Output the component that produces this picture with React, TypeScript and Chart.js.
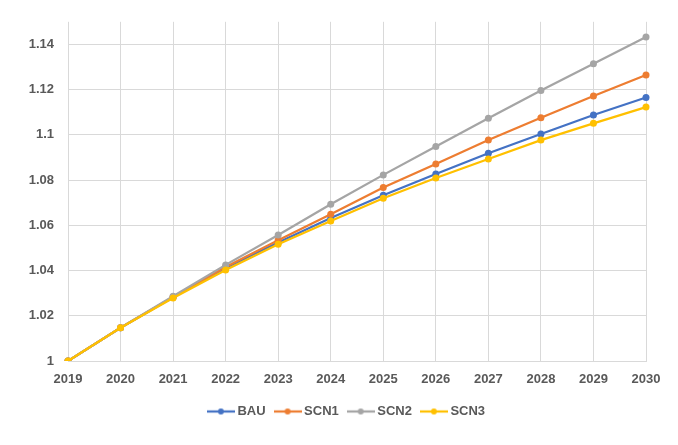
import React, { useEffect, useRef } from "react";
import { Chart, registerables } from "chart.js";

Chart.register(...registerables);

const years = ["2019", "2020", "2021", "2022", "2023", "2024", "2025", "2026", "2027", "2028", "2029", "2030"];
const bau = [1, 1.0147, 1.0282, 1.0411, 1.0524, 1.0632, 1.0733, 1.0827, 1.0919, 1.1004, 1.1088, 1.1165];
const scn1 = [1, 1.0147, 1.0283, 1.0416, 1.0534, 1.0649, 1.0767, 1.0871, 1.0977, 1.1076, 1.1172, 1.1265];
const scn2 = [1, 1.0147, 1.0286, 1.0425, 1.0557, 1.0693, 1.0823, 1.0949, 1.1073, 1.1196, 1.1314, 1.1433];
const scn3 = [1, 1.0147, 1.0279, 1.0402, 1.0516, 1.0619, 1.072, 1.0809, 1.0893, 1.0977, 1.1051, 1.1123];
const seriesNames = ["BAU", "SCN1", "SCN2", "SCN3"];
const seriesColors = ["#4472C4", "#ED7D31", "#A5A5A5", "#FFC000"];

function legendIcon(color: string): HTMLCanvasElement {
  const c = document.createElement("canvas");
  c.width = 28;
  c.height = 10;
  const ctx = c.getContext("2d")!;
  ctx.strokeStyle = color;
  ctx.lineWidth = 2.25;
  ctx.beginPath();
  ctx.moveTo(0, 5);
  ctx.lineTo(28, 5);
  ctx.stroke();
  ctx.fillStyle = color;
  ctx.beginPath();
  ctx.arc(14, 5, 3, 0, Math.PI * 2);
  ctx.fill();
  return c;
}

const legendShift = {
  id: "legendShift",
  afterLayout(chart: any) {
    if (chart.legend) {
      chart.legend.left += 25;
      chart.legend.right += 25;
    }
  },
};

export default function App() {
  const ref = useRef<HTMLCanvasElement>(null);
  useEffect(() => {
    const font = { family: "'Liberation Sans', Arial, sans-serif", size: 13, weight: "bold" as const };
    const all = [bau, scn1, scn2, scn3];
    const chart = new Chart(ref.current!, {
      type: "line",
      data: {
        labels: years,
        datasets: all.map((d, i) => ({
          label: seriesNames[i],
          data: d,
          borderColor: seriesColors[i],
          backgroundColor: seriesColors[i],
          borderWidth: 2.25,
          pointRadius: 3.5,
          pointBorderWidth: 0,
          pointStyle: "circle",
          tension: 0,
          order: all.length - i,
        })),
      },
      plugins: [legendShift],
      options: {
        animation: false,
        responsive: false,
        layout: { padding: { left: 0, right: 32, top: 20, bottom: 17 } },
        plugins: {
          tooltip: { enabled: false },
          legend: {
            position: "bottom",
            labels: {
              font,
              color: "#595959",
              usePointStyle: true,
              pointStyleWidth: 20,
              padding: 12,
              generateLabels: (ch: any) =>
                ch.data.datasets.map((ds: any, i: number) => ({
                  text: ds.label,
                  fillStyle: seriesColors[i],
                  strokeStyle: seriesColors[i],
                  lineWidth: 0,
                  pointStyle: legendIcon(seriesColors[i]),
                  datasetIndex: i,
                  fontColor: "#595959",
                  hidden: false,
                })),
            },
          },
        },
        scales: {
          x: {
            offset: false,
            grid: { color: "#d9d9d9", drawTicks: false, lineWidth: 1 },
            border: { color: "#d9d9d9" },
            ticks: { font, color: "#595959", padding: 11, maxRotation: 0 },
            afterFit: (s: any) => {
              s.height = 32;
            },
          },
          y: {
            min: 1,
            max: 1.15,
            grid: { color: "#d9d9d9", drawTicks: false },
            border: { display: false },
            ticks: {
              stepSize: 0.02,
              font,
              color: "#595959",
              padding: 14,
              callback: (v: any) => String(Number(Number(v).toFixed(2))),
            },
            afterBuildTicks: (s: any) => {
              s.ticks = s.ticks.filter((t: any) => t.value <= 1.1401);
            },
            afterFit: (s: any) => {
              s.width = 68;
            },
          },
        },
      },
    });
    return () => chart.destroy();
  }, []);
  return (
    <div style={{ position: "fixed", left: 0, top: 0, width: 678, height: 445, background: "#fff" }}>
      <canvas ref={ref} width={678} height={445} style={{ width: 678, height: 445 }} />
    </div>
  );
}
